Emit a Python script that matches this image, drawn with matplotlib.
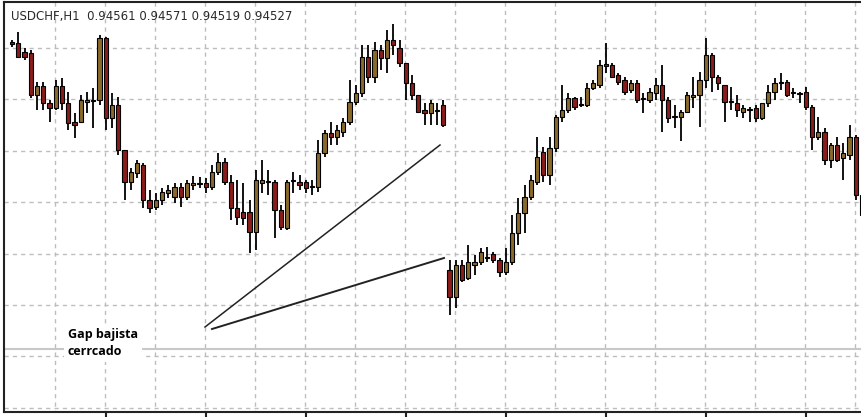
import matplotlib
matplotlib.use('Agg')
import matplotlib.pyplot as plt

# candle levels in chart units (screen-style, larger = lower price)
opens = [42, 43, 52, 53, 95, 86, 103, 108, 86, 103, 122, 122, 102, 100, 100, 38, 118, 105, 150, 182,
         173, 165, 200, 207, 200, 193, 197, 187, 197, 185, 183, 183, 187, 172, 162, 182, 208, 212, 212, 232,
         183, 181, 182, 210, 228, 181, 182, 182, 186, 187, 153, 133, 137, 132, 122, 102, 93, 57, 77, 50,
         58, 40, 48, 63, 83, 95, 110, 113, 110, 105,
         270, 297, 265, 278, 265, 262, 257, 254, 260, 272, 262, 233, 213, 197, 182, 152, 175, 148, 117, 110,
         98, 104, 105, 88, 85, 64, 65, 75, 80, 90, 83, 98, 100, 93, 85, 100, 116, 117, 112, 97,
         95, 80, 55, 77, 85, 101, 103, 112, 109, 108, 118, 103, 92, 82, 82, 92, 93, 92, 107, 137,
         132, 160, 145, 158, 155, 137, 195]
closes = [44, 57, 57, 95, 86, 103, 108, 86, 103, 123, 125, 100, 100, 101, 38, 118, 105, 150, 182, 172,
          163, 200, 208, 200, 192, 190, 187, 197, 183, 183, 184, 187, 172, 162, 182, 208, 217, 218, 232, 180,
          180, 182, 210, 227, 182, 180, 185, 188, 187, 153, 133, 137, 130, 122, 102, 93, 57, 77, 50, 58,
          40, 45, 63, 83, 95, 112, 113, 103, 111, 125,
          297, 265, 280, 262, 262, 252, 258, 260, 272, 262, 233, 213, 197, 180, 157, 175, 148, 117, 110, 98,
          107, 105, 88, 83, 65, 66, 77, 82, 92, 83, 100, 99, 92, 85, 100, 118, 117, 112, 95, 95,
          80, 55, 77, 83, 102, 102, 110, 108, 110, 118, 103, 92, 83, 83, 95, 93, 94, 107, 137, 132,
          160, 145, 160, 153, 137, 195, 215]
highs = [40, 32, 48, 50, 82, 82, 100, 80, 78, 92, 113, 95, 92, 88, 35, 37, 93, 97, 150, 168,
         160, 163, 190, 193, 188, 185, 183, 183, 180, 176, 177, 178, 165, 153, 158, 175, 180, 183, 200, 170,
         160, 170, 180, 205, 180, 172, 175, 180, 180, 140, 130, 122, 125, 118, 80, 85, 45, 45, 42, 45,
         30, 24, 40, 63, 75, 95, 103, 100, 103, 100,
         260, 260, 260, 245, 255, 248, 247, 252, 258, 248, 215, 198, 185, 175, 137, 147, 137, 115, 85, 93,
         97, 97, 83, 80, 60, 43, 63, 73, 77, 80, 80, 93, 88, 78, 65, 97, 105, 110, 92, 77,
         72, 38, 53, 75, 85, 87, 95, 105, 107, 105, 103, 85, 78, 73, 80, 88, 92, 87, 105, 117,
         128, 143, 137, 143, 125, 135, 195]
lows = [47, 58, 60, 98, 110, 110, 122, 110, 110, 130, 138, 123, 113, 128, 105, 130, 128, 155, 200, 190,
        178, 208, 213, 210, 205, 198, 203, 207, 200, 190, 188, 193, 190, 175, 185, 220, 225, 225, 253, 250,
        193, 195, 238, 230, 230, 193, 190, 193, 195, 192, 157, 145, 145, 137, 125, 105, 97, 83, 83, 70,
        73, 55, 67, 100, 100, 113, 125, 125, 125, 127,
        315, 308, 282, 280, 275, 265, 262, 263, 277, 275, 265, 245, 233, 200, 185, 182, 185, 152, 122, 113,
        110, 107, 107, 90, 88, 73, 78, 85, 95, 93, 103, 113, 103, 100, 132, 123, 128, 141, 113, 108,
        127, 88, 92, 90, 122, 110, 117, 118, 122, 122, 120, 107, 100, 90, 97, 98, 103, 110, 150, 140,
        165, 168, 162, 180, 160, 200, 223]

title = "USDCHF,H1  0.94561 0.94571 0.94519 0.94527"
note = "Gap bajista\ncerrcado"
up_col, down_col = '#8a6a2c', '#8b1c1c'

W, H = 862, 417
x0, step = 12, 6.25          # pixel of first candle, pixels per candle
px = lambda p: (p - x0) / step

fig = plt.figure(figsize=(W / 100, H / 100), dpi=100)
ax = fig.add_axes([0, 0, 1, 1])
ax.set_xlim(px(0), px(W))
ax.set_ylim(H, 0)
ax.axis('off')

# grid
grid_kw = dict(color='#bdbdbd', lw=1, ls=(0, (3, 3)), zorder=0)
for k in range(8):
    ax.plot([px(4), px(W)], [48 + 51.4 * k] * 2, **grid_kw)
for k in range(17):
    ax.plot([px(55 + 50 * k)] * 2, [2, 412], **grid_kw)
ax.plot([px(4), px(W)], [349, 349], color='#c8c8c8', lw=1.5, zorder=0)

# frame and bottom ticks
ax.plot([px(4), px(4)], [2, 412], color='#222', lw=1.5)
ax.plot([px(4), px(W)], [2, 2], color='#222', lw=1.5)
ax.plot([px(4), px(W)], [412, 412], color='#222', lw=1.5)
for k in range(8):
    ax.plot([px(106 + 100 * k)] * 2, [412, 417], color='#222', lw=1.5)

# candles
for i, (o, c, h, l) in enumerate(zip(opens, closes, highs, lows)):
    ax.vlines(i, h, l, color='black', lw=1.3, zorder=2)
    col = up_col if c < o else down_col
    top, bot = min(o, c), max(o, c)
    ax.bar(i, max(bot - top, 1), bottom=top, width=0.7, color=col,
           edgecolor='black', lw=0.8, zorder=3)

# annotation lines
ax.plot([px(205), px(440)], [327, 145], color='#222', lw=1.1, zorder=4)
ax.plot([px(212), px(444)], [329, 258], color='#222', lw=1.4, zorder=4)

ax.text(px(11), 16, title, fontsize=8.5, color='#2a2a2a', va='center', ha='left',
        family='DejaVu Sans')
ax.text(px(68), 343, note, fontsize=9, fontweight='bold', va='center', ha='left',
        family='Open Sans', linespacing=1.45,
        bbox=dict(facecolor='white', edgecolor='none', pad=3), zorder=5)

fig.savefig('out.png', dpi=100)
